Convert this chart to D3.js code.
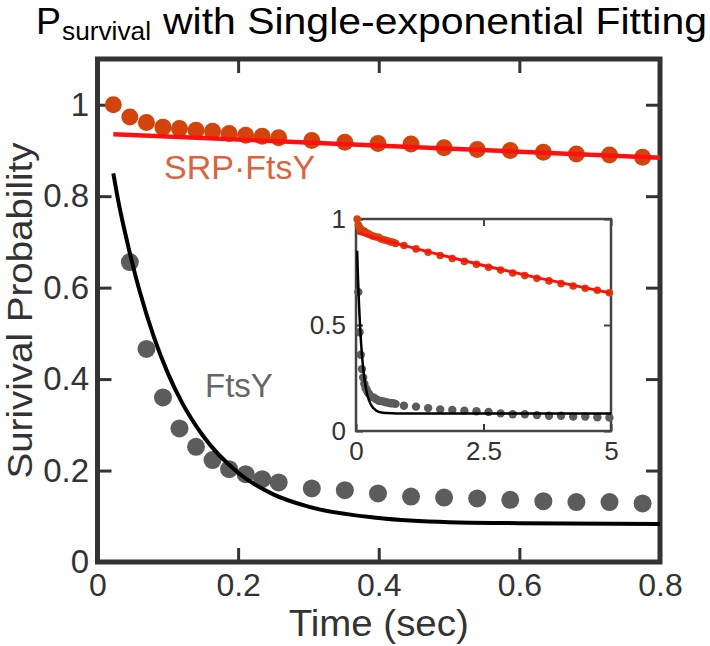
<!DOCTYPE html>
<html>
<head>
<meta charset="utf-8">
<script src="https://cdn.jsdelivr.net/npm/d3@7"></script>
<style>
  html, body { margin: 0; padding: 0; background: #fff; }
  svg { display: block; font-family: "Liberation Sans", Arial, Helvetica, sans-serif; }
</style>
</head>
<body>
<svg id="chart" width="710" height="646"></svg>
<script>
// ---------------- data ----------------
const mainTime = [0.0225, 0.0460, 0.0696, 0.0931, 0.1166, 0.1401, 0.1636, 0.1872, 0.2107, 0.2342, 0.2577,
                  0.3048, 0.3518, 0.3989, 0.4459, 0.4929, 0.5400, 0.5870, 0.6341, 0.6811, 0.7282, 0.7752];
const srpFtsySurvival = [1.000, 0.973, 0.961, 0.951, 0.948, 0.944, 0.942, 0.937, 0.933, 0.931, 0.928,
                         0.922, 0.918, 0.915, 0.914, 0.906, 0.902, 0.900, 0.896, 0.892, 0.890, 0.885];
const ftsySurvival = [null, 0.656, 0.466, 0.360, 0.292, 0.252, 0.223, 0.203, 0.192, 0.181, 0.174,
                      0.161, 0.157, 0.150, 0.143, 0.141, 0.139, 0.136, 0.133, 0.131, 0.131, 0.128];

// long-time points only visible in the inset
const insetTime = [0.940, 1.177, 1.414, 1.651, 1.888, 2.125, 2.362, 2.599, 2.836,
                   3.073, 3.310, 3.547, 3.784, 4.021, 4.258, 4.495, 4.732, 4.969];
const insetSrpFtsy = [0.875, 0.859, 0.843, 0.828, 0.814, 0.800, 0.786, 0.772, 0.759,
                      0.745, 0.733, 0.720, 0.708, 0.695, 0.684, 0.673, 0.664, 0.652];
const insetFtsy = [0.119, 0.115, 0.108, 0.102, 0.099, 0.096, 0.093, 0.090, 0.083,
                   0.079, 0.079, 0.075, 0.072, 0.072, 0.068, 0.068, 0.065, 0.063];

// single-exponential fit curves
const srpFitTime  = [0.0225, 0.8, 1.5, 2.5, 3.5, 5.0];
const srpFitValue = [0.9355, 0.884, 0.840, 0.781, 0.726, 0.651];
const ftsyFitTime  = [0.0225, 0.03, 0.04, 0.05, 0.06, 0.08, 0.10, 0.12, 0.15, 0.20, 0.25, 0.30, 0.40, 0.50, 0.60, 0.80, 1.5, 5.0];
const ftsyFitValue = [0.850, 0.786, 0.715, 0.650, 0.592, 0.493, 0.413, 0.349, 0.276, 0.195, 0.148, 0.121, 0.096, 0.087, 0.085, 0.083, 0.083, 0.083];

const mainXTicks = [0, 0.2, 0.4, 0.6, 0.8];
const mainYTicks = [0, 0.2, 0.4, 0.6, 0.8, 1];
const insetXTicks = [0, 2.5, 5];
const insetYTicks = [0, 0.5, 1];

// ---------------- build ----------------
const svg = d3.select("#chart");
const FONT = '"Liberation Sans", Arial, Helvetica, sans-serif';

const main = { left: 97.5, right: 660, top: 59, bottom: 562 };
const x = d3.scaleLinear().domain([0, 0.8]).range([main.left, main.right]);
const y = d3.scaleLinear().domain([0, 1.1]).range([main.bottom, main.top]);

const ins = { left: 356, right: 611, top: 219, bottom: 431 };
const xi = d3.scaleLinear().domain([0, 5]).range([ins.left, ins.right]);
const yi = d3.scaleLinear().domain([0, 1]).range([ins.bottom, ins.top]);

const srpPts = mainTime.map((t, i) => ({ t, v: srpFtsySurvival[i] }));
const ftsyPts = mainTime.map((t, i) => ({ t, v: ftsySurvival[i] })).filter(d => d.v != null);
const srpFit = srpFitTime.map((t, i) => ({ t, v: srpFitValue[i] }));
const ftsyFit = ftsyFitTime.map((t, i) => ({ t, v: ftsyFitValue[i] }));
const insSrpPts = srpPts.concat(insetTime.map((t, i) => ({ t, v: insetSrpFtsy[i] })));
const insFtsyPts = ftsyPts.concat(insetTime.map((t, i) => ({ t, v: insetFtsy[i] })));

// ---- title ----
svg.append("text").attr("x", 36).attr("y", 34).attr("font-size", 37).style("font-family", FONT)
  .attr("textLength", 25).attr("lengthAdjust", "spacingAndGlyphs").text("P");
svg.append("text").attr("x", 62).attr("y", 40).attr("font-size", 26).style("font-family", FONT)
  .attr("textLength", 89).attr("lengthAdjust", "spacingAndGlyphs").text("survival");
svg.append("text").attr("x", 163).attr("y", 34).attr("font-size", 37).style("font-family", FONT)
  .attr("textLength", 544).attr("lengthAdjust", "spacingAndGlyphs")
  .text("with Single-exponential Fitting");

// ---- main axes ----
function styleAxis(g, fs, col, sw) {
  g.select(".domain").remove();
  g.selectAll(".tick line").attr("stroke", col).attr("stroke-width", sw);
  g.selectAll(".tick text").attr("fill", col).style("font-size", fs + "px").style("font-family", FONT);
}
const TL = 14;
svg.append("g").attr("transform", `translate(0,${main.bottom})`)
  .call(d3.axisBottom(x).tickValues(mainXTicks).tickSize(-TL).tickPadding(11).tickFormat(d3.format("")))
  .call(g => styleAxis(g, 32, "#333", 3));
svg.append("g").attr("transform", `translate(0,${main.top})`)
  .call(d3.axisTop(x).tickValues(mainXTicks).tickSize(-TL).tickFormat(""))
  .call(g => styleAxis(g, 32, "#333", 3));
svg.append("g").attr("transform", `translate(${main.left},0)`)
  .call(d3.axisLeft(y).tickValues(mainYTicks).tickSize(-TL).tickPadding(8.5).tickFormat(d3.format("")))
  .call(g => styleAxis(g, 33, "#333", 3));
svg.append("g").attr("transform", `translate(${main.right},0)`)
  .call(d3.axisRight(y).tickValues(mainYTicks).tickSize(-TL).tickFormat(""))
  .call(g => styleAxis(g, 33, "#333", 3));

svg.append("rect").attr("x", main.left).attr("y", main.top)
  .attr("width", main.right - main.left).attr("height", main.bottom - main.top)
  .attr("fill", "none").attr("stroke", "#333").attr("stroke-width", 5);

// axis titles
svg.append("text").attr("x", (main.left + main.right) / 2).attr("y", 636)
  .attr("text-anchor", "middle").attr("font-size", 36).attr("fill", "#333").style("font-family", FONT)
  .attr("textLength", 180).attr("lengthAdjust", "spacingAndGlyphs")
  .text("Time (sec)");
svg.append("text").attr("transform", `translate(32,${(main.top + main.bottom) / 2}) rotate(-90)`)
  .attr("text-anchor", "middle").attr("font-size", 35).attr("fill", "#333").style("font-family", FONT)
  .attr("textLength", 336).attr("lengthAdjust", "spacingAndGlyphs")
  .text("Surivival Probability");

// ---- main data ----
const lineMain = d3.line().x(d => x(d.t)).y(d => y(d.v)).curve(d3.curveMonotoneX);

svg.append("g").selectAll("circle").data(ftsyPts).join("circle")
  .attr("cx", d => x(d.t)).attr("cy", d => y(d.v)).attr("r", 9).attr("fill", "#5c5c5c");
svg.append("g").selectAll("circle").data(srpPts).join("circle")
  .attr("cx", d => x(d.t)).attr("cy", d => y(d.v)).attr("r", 8.5).attr("fill", "#d3440c");

svg.append("path").datum(ftsyFit.filter(d => d.t <= 0.8)).attr("d", lineMain)
  .attr("fill", "none").attr("stroke", "#000").attr("stroke-width", 4);
svg.append("path").datum(srpFit.filter(d => d.t <= 0.8)).attr("d", lineMain)
  .attr("fill", "none").attr("stroke", "#ff1010").attr("stroke-width", 4.5);

// labels
svg.append("text").attr("x", 164).attr("y", 179).attr("font-size", 34).attr("fill", "#da6440")
  .style("font-family", FONT).text("SRP\u00B7FtsY");
svg.append("text").attr("x", 205).attr("y", 397).attr("font-size", 33).attr("fill", "#666")
  .style("font-family", FONT).text("FtsY");

// ---- inset ----
svg.append("rect").attr("x", ins.left).attr("y", ins.top)
  .attr("width", ins.right - ins.left).attr("height", ins.bottom - ins.top).attr("fill", "#fff");

const ITL = 7;
svg.append("g").attr("transform", `translate(0,${ins.bottom})`)
  .call(d3.axisBottom(xi).tickValues(insetXTicks).tickSize(-ITL).tickPadding(11).tickFormat(d3.format("")))
  .call(g => styleAxis(g, 26, "#333", 2));
svg.append("g").attr("transform", `translate(0,${ins.top})`)
  .call(d3.axisTop(xi).tickValues(insetXTicks).tickSize(-ITL).tickFormat(""))
  .call(g => styleAxis(g, 26, "#444", 2));
svg.append("g").attr("transform", `translate(${ins.left},0)`)
  .call(d3.axisLeft(yi).tickValues(insetYTicks).tickSize(-ITL).tickPadding(10).tickFormat(d3.format("")))
  .call(g => styleAxis(g, 26, "#333", 2));
svg.append("g").attr("transform", `translate(${ins.right},0)`)
  .call(d3.axisRight(yi).tickValues(insetYTicks).tickSize(-ITL).tickFormat(""))
  .call(g => styleAxis(g, 26, "#444", 2));
svg.append("rect").attr("x", ins.left).attr("y", ins.top)
  .attr("width", ins.right - ins.left).attr("height", ins.bottom - ins.top)
  .attr("fill", "none").attr("stroke", "#444").attr("stroke-width", 2.5);

const lineIns = d3.line().x(d => xi(d.t)).y(d => yi(d.v)).curve(d3.curveMonotoneX);
svg.append("g").selectAll("circle").data(insFtsyPts).join("circle")
  .attr("cx", d => xi(d.t)).attr("cy", d => yi(d.v)).attr("r", 4.2).attr("fill", "#5c5c5c");
svg.append("g").selectAll("circle").data(insSrpPts).join("circle")
  .attr("cx", d => xi(d.t)).attr("cy", d => yi(d.v)).attr("r", 3.8).attr("fill", "#d3440c");
svg.append("path").datum(ftsyFit).attr("d", lineIns)
  .attr("fill", "none").attr("stroke", "#000").attr("stroke-width", 2.5);
svg.append("path").datum(srpFit).attr("d", lineIns)
  .attr("fill", "none").attr("stroke", "#ff1010").attr("stroke-width", 3);
</script>
</body>
</html>
